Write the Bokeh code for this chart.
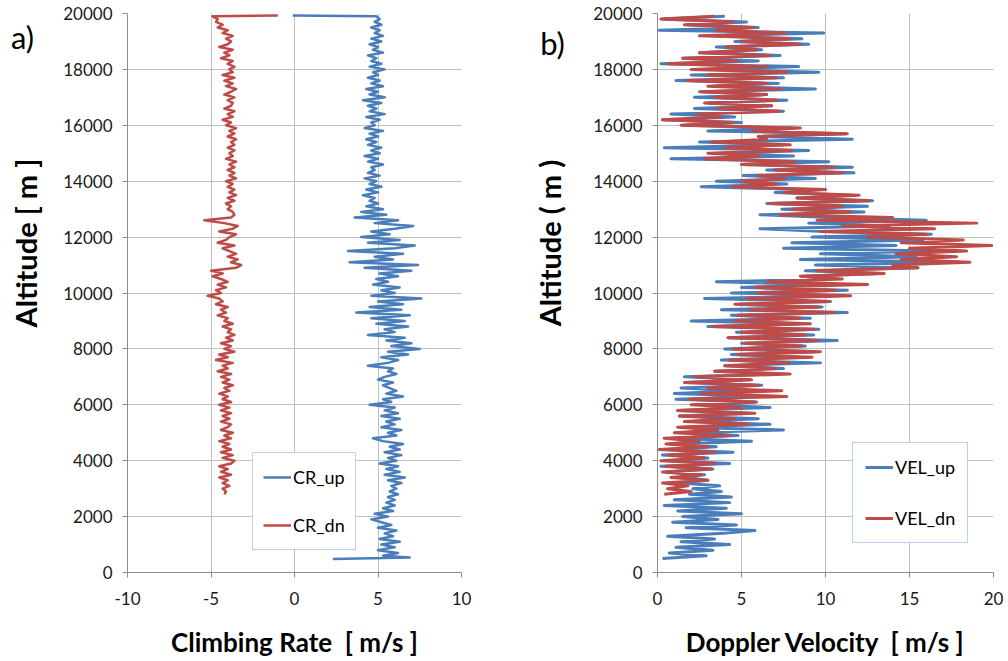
import math
from bokeh.plotting import figure
from bokeh.models import Range1d, FixedTicker, Legend, LegendItem
from bokeh.core.properties import value
from bokeh.layouts import row
from bokeh.embed import file_html
from bokeh.resources import INLINE

# ---------------- data ----------------
X_TICKS_A = [-10, -5, 0, 5, 10]
X_TICKS_B = [0, 5, 10, 15, 20]
Y_TICKS = [0, 2000, 4000, 6000, 8000, 10000, 12000, 14000, 16000, 18000, 20000]

# Climbing rate, ascent (m/s) : 480, 540, then every 100 m from 600 to 19900, then top 19930
CR_UP = [2.3, 6.9,
         5.3, 6.2, 5.0, 6.0, 5.2, 6.3, 5.1, 5.9, 5.4, 6.1,
         5.0, 5.8, 5.2, 4.6, 5.6, 4.8, 5.9, 5.3, 6.0, 5.5,
         6.0, 5.6, 6.2, 5.7, 6.1, 5.8, 6.4, 5.6, 6.6, 5.4,
         6.3, 5.5, 6.2, 5.1, 6.1, 5.6, 6.4, 5.4, 6.3, 5.7,
         6.5, 5.3, 4.7, 6.1, 5.6, 6.4, 5.2, 6.0, 5.5, 6.3,
         5.2, 6.2, 5.4, 6.0, 4.5, 5.8, 5.3, 6.5, 5.5, 6.1,
         5.7, 5.3, 5.9, 5.0, 5.4, 6.1, 5.6, 5.9, 4.4, 5.6,
         6.2, 5.2, 6.8, 5.6, 7.5, 5.8, 7.0, 5.5, 6.6, 4.4,
         6.0, 5.4, 6.8, 4.9, 6.6, 4.6, 6.9, 3.7, 6.4, 4.5,
         6.5, 5.0, 7.6, 4.6, 6.0, 5.2, 6.3, 4.7, 5.6, 4.9,
         6.2, 5.1, 7.0, 4.2, 7.4, 3.3, 5.9, 4.8, 6.5, 3.2,
         6.0, 7.2, 4.4, 6.3, 4.0, 5.7, 4.6, 6.0, 7.1, 4.8,
         6.2, 3.6, 5.5, 4.0, 5.3, 4.3, 5.0, 4.5, 4.8, 4.1,
         5.0, 4.3, 5.2, 4.5, 4.9, 4.2, 5.1, 4.4, 4.8, 4.6,
         5.3, 4.4, 5.0, 4.2, 5.1, 4.6, 5.2, 4.4, 4.9, 4.3,
         5.0, 4.5, 5.3, 4.2, 4.8, 4.6, 5.1, 4.3, 5.4, 4.5,
         4.9, 4.4, 5.2, 4.1, 5.4, 4.5, 5.0, 4.3, 5.3, 4.6,
         5.1, 4.4, 5.0, 4.7, 5.4, 4.5, 5.2, 4.6, 4.9, 4.4,
         5.3, 4.7, 5.0, 4.5, 5.2, 4.6, 5.3, 4.8, 5.1, 4.6,
         5.2, 4.8, 5.1, 4.9,
         -0.1]
CR_UP_ALT = [480, 540] + list(range(600, 20000, 100)) + [19930]

# Climbing rate, descent (m/s) : every 100 m from 2800 to 19900, then top 19930
CR_DN = [-4.2, -4.1, -4.3, -3.9, -4.3, -4.0, -4.5, -3.8, -4.4, -4.0,
         -4.5, -3.8, -3.6, -4.3, -3.7, -4.4, -3.8, -4.3, -3.9, -4.5,
         -3.8, -4.2, -3.7, -4.4, -4.0, -3.8, -4.4, -3.9, -4.3, -3.8,
         -4.4, -3.9, -4.5, -3.8, -4.3, -4.0, -4.5, -3.9, -4.2, -3.7,
         -4.3, -3.9, -4.4, -3.8, -4.6, -4.0, -4.3, -3.7, -4.7, -4.0,
         -4.5, -3.6, -4.2, -3.8, -4.4, -3.7, -4.1, -3.6, -4.0, -3.8,
         -4.3, -3.7, -4.2, -4.0, -4.6, -4.1, -4.4, -4.0, -4.7, -4.3,
         -4.5, -5.2, -4.4, -4.7, -4.1, -4.6, -4.0, -4.4, -4.9, -4.3,
         -5.0, -3.5, -3.2, -3.8, -3.4, -4.0, -3.5, -3.9, -4.3, -3.6,
         -4.6, -4.1, -3.9, -3.5, -4.5, -3.7, -3.4, -4.2, -5.4, -3.8,
         -3.6, -3.7, -4.0, -3.8, -4.1, -3.6, -4.0, -3.5, -3.9, -3.6,
         -4.0, -3.7, -4.1, -3.5, -3.9, -3.6, -4.0, -3.6, -3.9, -3.5,
         -4.1, -3.7, -3.9, -3.6, -4.0, -3.6, -3.8, -3.5, -4.0, -3.6,
         -3.9, -3.5, -4.1, -3.8, -4.3, -3.7, -4.0, -3.6, -4.2, -3.8,
         -3.7, -4.0, -3.6, -4.2, -3.8, -3.5, -4.1, -3.7, -4.2, -3.6,
         -4.3, -3.7, -3.9, -3.6, -4.0, -3.7, -4.4, -3.9, -4.2, -3.7,
         -4.5, -4.0, -3.8, -4.1, -3.7, -4.3, -4.0, -4.6, -4.3, -4.7,
         -4.6, -4.9,
         -1.0]
CR_DN_ALT = list(range(2800, 20000, 100)) + [19930]

# Doppler velocity, ascent (m/s) : every 100 m from 500 to 19900
VEL_UP = [0.3, 2.9, 0.7, 3.3, 1.1, 4.3, 1.4, 3.4, 0.6, 3.9,
          5.8, 1.7, 4.7, 0.9, 3.6, 1.5, 5.0, 1.2, 4.1, 0.4,
          4.3, 1.0, 4.4, 1.9, 3.8, 2.1, 3.7, 1.3, 3.0, 1.5,
          2.8, 0.5, 3.3, 0.2, 4.3, 0.8, 3.0, 0.3, 4.5, 0.6,
          3.5, 1.2, 5.6, 0.9, 4.8, 1.6, 7.5, 1.5, 6.7, 2.2,
          6.0, 1.3, 5.4, 1.2, 6.7, 3.0, 5.9, 1.1, 6.3, 1.0,
          5.0, 1.4, 6.2, 1.8, 5.5, 1.6, 7.3, 3.4, 7.5, 4.0,
          9.7, 3.8, 8.4, 4.4, 9.4, 4.0, 8.8, 5.0, 10.7, 4.2,
          9.3, 4.7, 9.6, 3.0, 8.5, 2.0, 9.1, 4.4, 11.3, 3.8,
          9.8, 4.9, 10.3, 2.8, 10.8, 4.4, 11.3, 5.0, 9.6, 3.5,
          10.4, 8.6, 13.2, 8.8, 15.5, 9.4, 18.0, 8.5, 15.4, 9.7,
          16.4, 7.5, 14.2, 8.0, 15.8, 9.2, 16.3, 10.0, 6.1, 13.8,
          9.0, 16.0, 10.2, 6.1, 12.3, 7.4, 12.5, 6.5, 12.8, 8.3,
          11.5, 7.0, 9.0, 2.6, 7.7, 3.5, 9.4, 5.1, 11.7, 6.5,
          11.6, 5.0, 10.2, 0.8, 8.1, 3.6, 9.0, 0.4, 7.5, 2.5,
          11.6, 6.0, 11.2, 3.0, 8.1, 1.5, 5.0, 0.3, 4.6, 0.8,
          7.5, 2.2, 6.8, 3.0, 7.7, 2.2, 6.5, 2.5, 9.4, 3.3,
          7.2, 1.1, 7.5, 2.0, 9.6, 3.4, 8.4, 0.2, 6.0, 1.5,
          7.3, 2.5, 6.2, 3.5, 9.0, 4.6, 8.6, 3.2, 9.9, 0.1,
          6.0, 1.8, 5.3, 0.3, 4.0]
VEL_UP_ALT = [500 + 100 * i for i in range(len(VEL_UP))]

# Doppler velocity, descent (m/s) : every 100 m from 2800 to 19900
VEL_DN = [0.4, 2.0, 0.6, 1.8, 0.3, 3.0, 0.8, 2.6, 0.3, 3.2,
          0.5, 3.4, 0.2, 2.8, 0.7, 3.4, 0.1, 3.0, 0.5, 2.5,
          0.4, 4.3, 1.0, 3.6, 1.2, 5.4, 1.6, 4.6, 1.3, 5.8,
          1.2, 5.0, 2.0, 5.8, 1.9, 7.7, 2.6, 7.4, 3.0, 6.0,
          1.6, 5.6, 2.2, 7.9, 3.4, 7.0, 4.0, 7.8, 4.3, 9.2,
          4.8, 9.7, 4.5, 8.6, 5.2, 9.5, 4.2, 8.8, 5.0, 9.3,
          3.3, 9.1, 4.6, 8.5, 4.8, 10.5, 5.5, 9.6, 4.6, 10.2,
          5.3, 11.5, 6.0, 10.6, 5.8, 12.5, 6.5, 11.0, 8.5, 13.5,
          9.5, 15.5, 14.0, 18.6, 14.5, 17.8, 14.2, 18.4, 15.0, 19.9,
          14.5, 18.2, 12.5, 16.0, 9.7, 16.5, 11.0, 19.0, 9.5, 14.0,
          7.3, 11.5, 8.0, 11.0, 6.7, 12.6, 8.3, 12.0, 7.5, 10.0,
          4.5, 7.1, 5.0, 7.6, 6.0, 11.0, 7.0, 10.5, 5.0, 8.2,
          2.8, 6.1, 3.0, 8.0, 4.0, 7.9, 3.2, 6.5, 6.0, 11.3,
          5.6, 8.5, 1.4, 4.5, 0.3, 3.8, 2.4, 7.3, 3.6, 6.8,
          2.8, 7.1, 3.4, 6.5, 2.6, 7.3, 3.0, 6.5, 1.8, 7.1,
          3.0, 7.7, 2.0, 6.5, 0.6, 4.8, 1.5, 6.7, 2.5, 5.9,
          4.1, 8.5, 5.0, 7.9, 2.5, 7.6, 3.5, 5.7, 1.6, 4.5,
          0.2, 3.4]
VEL_DN_ALT = [2800 + 100 * i for i in range(len(VEL_DN))]

# ---------------- styling ----------------
BLUE = "#4A7EBB"
RED = "#BE4B48"
FONT = "Lato"
GRID = "#BFBFBF"
AXIS = "#8C8C8C"
H = 660
TOP = 13
BOTTOM = 87
FRAME_H = H - TOP - BOTTOM


def make_fig(width, left, right, xr, xticks, xlabel):
    p = figure(width=width, height=H,
               x_range=Range1d(*xr), y_range=Range1d(0, 20000),
               output_backend="svg", toolbar_location=None,
               min_border_left=left, min_border_right=right,
               min_border_top=TOP, min_border_bottom=BOTTOM)
    p.outline_line_color = None
    p.background_fill_color = "white"
    p.border_fill_color = "white"
    p.xaxis.ticker = FixedTicker(ticks=xticks)
    p.yaxis.ticker = FixedTicker(ticks=Y_TICKS)
    p.xgrid.ticker = FixedTicker(ticks=xticks)
    p.ygrid.ticker = FixedTicker(ticks=Y_TICKS)
    p.grid.grid_line_color = GRID
    p.grid.grid_line_width = 1
    for ax in (p.xaxis, p.yaxis):
        ax.axis_line_color = AXIS
        ax.major_tick_line_color = AXIS
        ax.major_tick_out = 5
        ax.major_tick_in = 0
        ax.minor_tick_line_color = None
        ax.major_label_text_font = FONT
        ax.major_label_text_font_size = "17px"
        ax.major_label_text_color = "#1a1a1a"
    p.xaxis.major_label_standoff = 14
    p.yaxis.major_label_standoff = 10
    p.xaxis.major_label_overrides = {t: str(t) for t in xticks}
    p.xaxis.axis_label = xlabel
    p.xaxis.axis_label_text_font = FONT
    p.xaxis.axis_label_text_font_size = "26px"
    p.xaxis.axis_label_text_font_style = "bold"
    p.xaxis.axis_label_text_color = "black"
    p.xaxis.axis_label_standoff = 18
    return p


def make_strip(width, tag, tag_xy, ylabel, ylabel_xy):
    # narrow text-only panel left of each chart; its frame is aligned with the chart frame,
    # so page y maps to (TOP + FRAME_H - y)
    s = figure(width=width, height=H, x_range=Range1d(0, width), y_range=Range1d(0, FRAME_H),
               x_axis_location=None, y_axis_location=None,
               output_backend="svg", toolbar_location=None,
               min_border_left=0, min_border_right=0,
               min_border_top=TOP, min_border_bottom=BOTTOM,
               outline_line_color=None)
    s.xgrid.visible = False
    s.ygrid.visible = False
    s.grid.visible = False
    s.background_fill_color = "white"
    s.border_fill_color = "white"
    s.text(x=[tag_xy[0]], y=[TOP + FRAME_H - tag_xy[1]], text=[tag],
           text_font=value(FONT), text_font_size="31px", text_color="black",
           text_align="center", text_baseline="middle")
    s.text(x=[ylabel_xy[0]], y=[TOP + FRAME_H - ylabel_xy[1]], text=[ylabel], angle=math.pi / 2,
           text_font=value(FONT), text_font_size="29px", text_font_style="bold",
           text_color="black", text_align="center", text_baseline="middle")
    return s


def add_legend(p, items, loc, pad, glyph_h, spacing):
    leg = Legend(items=items, location=loc, orientation="vertical",
                 border_line_color="#6FA8DC", border_line_width=1,
                 background_fill_color="white", background_fill_alpha=1.0,
                 label_text_font=FONT, label_text_font_size="18px",
                 label_text_color="black",
                 glyph_width=28, glyph_height=glyph_h, label_height=glyph_h,
                 padding=pad, spacing=spacing, label_standoff=2, margin=0)
    p.add_layout(leg)


# ---------------- panel a ----------------
sa = make_strip(60, "a)", (22, 37), "Altitude [ m ]", (25, 243))
pa = make_fig(448, 67, 47, (-10, 10), X_TICKS_A, "Climbing Rate\u00a0 [ m/s ]")
r_up = pa.line(CR_UP, CR_UP_ALT, line_color=BLUE, line_width=2.5, line_join="round")
r_dn = pa.line(CR_DN, CR_DN_ALT, line_color=RED, line_width=2.5, line_join="round")
add_legend(pa, [LegendItem(label="CR_up", renderers=[r_up]),
                LegendItem(label="CR_dn", renderers=[r_dn])],
           (125, 22), 10, 28, 20)

# ---------------- panel b ----------------
sb = make_strip(60, "b)", (44, 43), "Altitude ( m )", (41, 243))
pb = make_fig(438, 89, 13, (0, 20), X_TICKS_B, "Doppler Velocity\u00a0 [ m/s ]")
v_up = pb.line(VEL_UP, VEL_UP_ALT, line_color=BLUE, line_width=3, line_join="round")
v_dn = pb.line(VEL_DN, VEL_DN_ALT, line_color=RED, line_width=3, line_join="round")
add_legend(pb, [LegendItem(label="VEL_up", renderers=[v_up]),
                LegendItem(label="VEL_dn", renderers=[v_dn])],
           (195, 29), 12, 24, 27)

layout = row(sa, pa, sb, pb, spacing=0)
open("out.html", "w").write(file_html(layout, INLINE))
